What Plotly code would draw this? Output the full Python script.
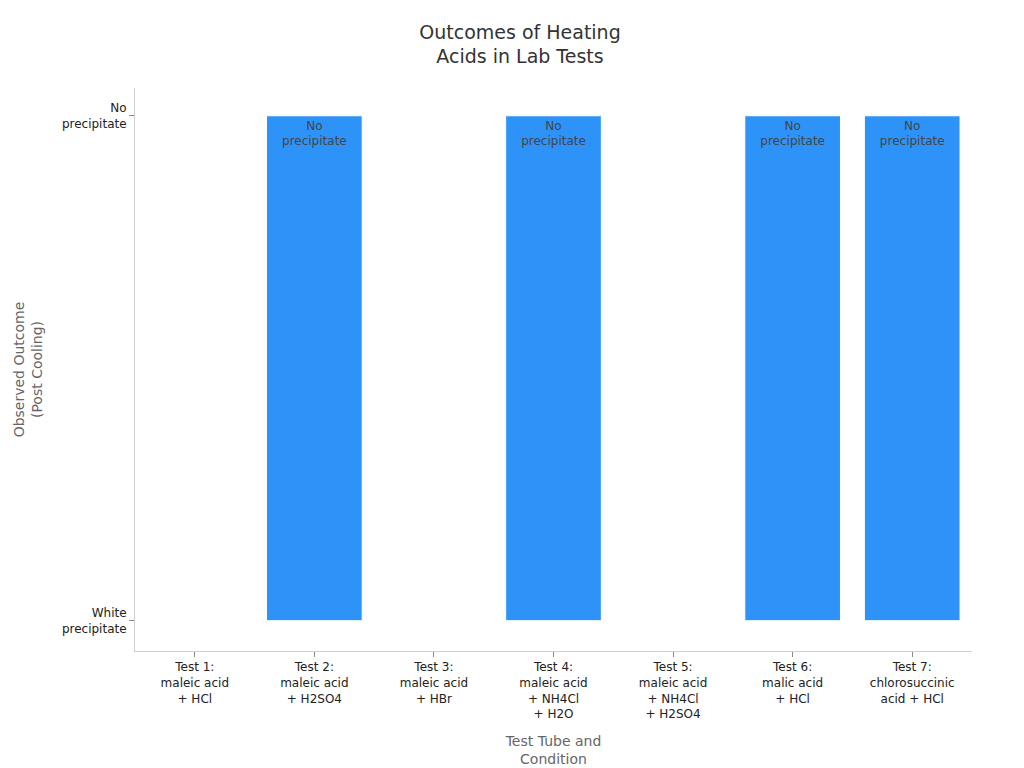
import plotly.graph_objects as go

tests = ["Test 1:<br>maleic acid<br>+ HCl", "Test 2:<br>maleic acid<br>+ H2SO4",
         "Test 3:<br>maleic acid<br>+ HBr", "Test 4:<br>maleic acid<br>+ NH4Cl<br>+ H2O",
         "Test 5:<br>maleic acid<br>+ NH4Cl<br>+ H2SO4", "Test 6:<br>malic acid<br>+ HCl",
         "Test 7:<br>chlorosuccinic<br>acid + HCl"]
outcomes = ["White precipitate", "No precipitate", "White precipitate", "No precipitate",
            "White precipitate", "No precipitate", "No precipitate"]
categories = ["White precipitate", "No precipitate"]

labels = [o.replace(" ", "<br>") if o != categories[0] else "" for o in outcomes]

fig = go.Figure(go.Bar(
    x=tests, y=outcomes, text=labels, textposition="inside", insidetextanchor="end",
    textfont=dict(size=12, color="#444444"),
    marker=dict(color="#2E93F8", line=dict(color="white", width=1)),
    width=0.8,
))
fig.update_layout(
    width=1024, height=768,
    font=dict(family="DejaVu Sans", size=12, color="#222222"),
    title=dict(text="Outcomes of Heating<br>Acids in Lab Tests", x=0.5, xanchor="center",
               y=0.96, font=dict(size=19, color="#333333")),
    plot_bgcolor="white", paper_bgcolor="white",
    margin=dict(l=127, r=60, t=80, b=125),
    showlegend=False,
)
fig.update_xaxes(title=dict(text="Test Tube and<br>Condition", font=dict(size=14, color="#666666")),
                 showline=True, linecolor="#d0d0d0", ticks="outside", ticklen=5, tickcolor="#888888")
fig.update_yaxes(title=dict(text="Observed Outcome<br>(Post Cooling)", font=dict(size=14, color="#666666")),
                 type="category", categoryorder="array", categoryarray=categories,
                 ticktext=["White<br>precipitate", "No<br>precipitate"], tickvals=categories,
                 range=[-0.06, 1.055], showline=True, linecolor="#d0d0d0", showgrid=False,
                 ticks="outside", ticklen=5, tickcolor="#888888", zeroline=False)
fig.write_html("out.html")
